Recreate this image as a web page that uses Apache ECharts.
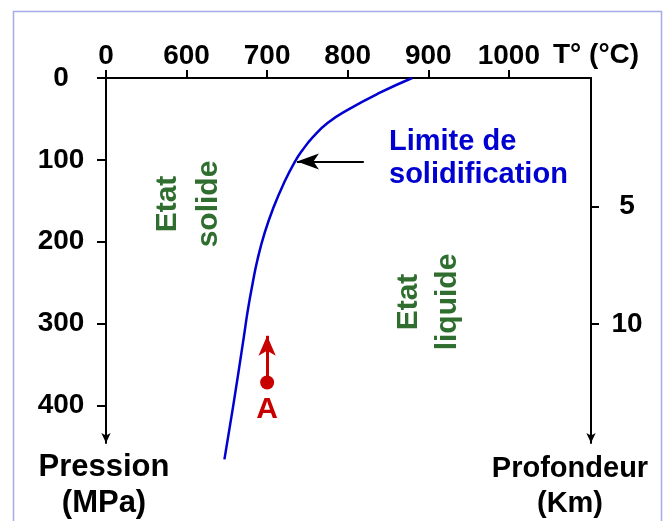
<!DOCTYPE html>
<html>
<head>
<meta charset="utf-8">
<script src="https://cdn.jsdelivr.net/npm/echarts@6/dist/echarts.min.js"></script>
<style>
html,body{margin:0;padding:0;background:#fff;}
#chart{width:664px;height:521px;}
</style>
</head>
<body>
<div id="chart"></div>
<script>
// Temperature axis (broken axis: origin labelled "0")
const tempTicks = [500, 600, 700, 800, 900, 1000];
const tempTickLabels = ['0', '600', '700', '800', '900', '1000'];
// Pressure axis (MPa)
const pressureTicks = [0, 100, 200, 300, 400];
// Depth axis (km)
const depthTicks = [5, 10];
// Solidification limit curve (T in °C, P in MPa)
const solidusT = [880, 840, 800, 775, 757, 744, 734, 721, 708, 697, 688, 682, 676, 671, 658, 647];
const solidusP = [0, 18, 39, 55, 72, 88, 103, 128, 158, 189, 222, 251, 284, 317, 400, 466];
// Point A and its arrow
const pointA = [700, 372];
const pointAArrowTip = [700, 315];
// Arrow to the limit curve
const limitArrowFrom = [820, 102];
const limitArrowTo = [737, 102];

const FONT = "'Liberation Sans', Arial, sans-serif";
const GREEN = '#2f6e2f';
const BLUE = '#0000d0';
const RED = '#c80000';

const chart = echarts.init(document.getElementById('chart'), null, {renderer: 'canvas'});
const curve = solidusT.map((t, i) => [t, solidusP[i]]);

chart.setOption({
  animation: false,
  backgroundColor: '#ffffff',
  grid: {left: 106, right: 73, top: 78, bottom: 78, containLabel: false, outerBoundsMode: 'none'},
  xAxis: {
    type: 'value', position: 'top', min: 500, max: 1102,
    name: 'T° (°C)', nameLocation: 'end', nameGap: -38,
    nameTextStyle: {fontFamily: FONT, fontWeight: 'bold', fontSize: 28, color: '#000', verticalAlign: 'bottom', padding: [0, 0, 9, 0]},
    axisLine: {show: true, lineStyle: {color: '#000', width: 2}},
    axisTick: {show: true, inside: false, length: 8, lineStyle: {color: '#000', width: 2}, customValues: tempTicks},
    axisLabel: {
      show: true, margin: 8, fontFamily: FONT, fontWeight: 'bold', fontSize: 28, color: '#000',
      customValues: tempTicks,
      formatter: v => { const i = tempTicks.indexOf(v); return i >= 0 ? tempTickLabels[i] : ''; }
    },
    splitLine: {show: false}
  },
  yAxis: [{
    type: 'value', inverse: true, min: 0, max: 446, position: 'left',
    name: 'Pression\n(MPa)', nameLocation: 'end', nameGap: 6,
    nameTextStyle: {fontFamily: FONT, fontWeight: 'bold', fontSize: 31, color: '#000', lineHeight: 36, align: 'center', padding: [0, 4, 0, 0]},
    axisLine: {show: true, symbol: ['arrow', 'none'], symbolSize: [7, 10], lineStyle: {color: '#000', width: 2}},
    axisTick: {show: true, length: 9, lineStyle: {color: '#000', width: 2}, customValues: pressureTicks},
    axisLabel: {show: true, margin: 45, align: 'center', fontFamily: FONT, fontWeight: 'bold', fontSize: 28, color: '#000', customValues: pressureTicks},
    splitLine: {show: false}
  }, {
    type: 'value', inverse: true, min: -0.47, max: 15.06, position: 'right',
    name: 'Profondeur\n(Km)', nameLocation: 'end', nameGap: 8,
    nameTextStyle: {fontFamily: FONT, fontWeight: 'bold', fontSize: 29, color: '#000', lineHeight: 35, align: 'center', padding: [0, 42, 0, 0]},
    axisLine: {show: true, symbol: ['arrow', 'none'], symbolSize: [7, 10], lineStyle: {color: '#000', width: 2}},
    axisTick: {show: true, length: 8, lineStyle: {color: '#000', width: 2}, customValues: depthTicks},
    axisLabel: {show: true, margin: 36, align: 'center', fontFamily: FONT, fontWeight: 'bold', fontSize: 28, color: '#000', customValues: depthTicks},
    splitLine: {show: false}
  }],
  series: [{
    type: 'line', name: 'Limite de solidification', data: curve,
    smooth: 0.5, showSymbol: false, clip: false,
    lineStyle: {color: BLUE, width: 2.5},
    markLine: {
      silent: true, symbol: ['none', 'arrow'], symbolSize: [12, 22],
      label: {show: false},
      lineStyle: {color: '#000', width: 2, type: 'solid'},
      data: [[{coord: limitArrowFrom}, {coord: limitArrowTo}]]
    }
  }, {
    type: 'scatter', name: 'A', data: [pointA],
    symbol: 'circle', symbolSize: 14, itemStyle: {color: RED, opacity: 1},
    label: {show: true, position: 'bottom', distance: 5, formatter: 'A', fontFamily: FONT, fontWeight: 'bold', fontSize: 30, color: RED},
    markLine: {
      silent: true, symbol: ['none', 'arrow'], symbolSize: [13, 20],
      label: {show: false},
      lineStyle: {color: RED, width: 3, type: 'solid', opacity: 1},
      data: [[{coord: pointA}, {coord: pointAArrowTip}]]
    }
  }],
  graphic: [
    {type: 'rect', silent: true, shape: {x: 13.5, y: 11.5, width: 648, height: 540},
     style: {fill: 'none', stroke: '#a4abe6', lineWidth: 1.5}},
    {type: 'text', silent: true, x: 389, y: 158,
     style: {text: 'Limite de\nsolidification', fill: BLUE, fontFamily: FONT, fontWeight: 'bold', fontSize: 29, lineHeight: 33, align: 'left', verticalAlign: 'middle'}},
    {type: 'text', silent: true, x: 188, y: 204, rotation: Math.PI / 2,
     style: {text: 'Etat\nsolide', fill: GREEN, fontFamily: FONT, fontWeight: 'bold', fontSize: 30, lineHeight: 41, align: 'center', verticalAlign: 'middle'}},
    {type: 'text', silent: true, x: 428, y: 302, rotation: Math.PI / 2,
     style: {text: 'Etat\nliquide', fill: GREEN, fontFamily: FONT, fontWeight: 'bold', fontSize: 30, lineHeight: 39, align: 'center', verticalAlign: 'middle'}}
  ]
});
</script>
</body>
</html>
